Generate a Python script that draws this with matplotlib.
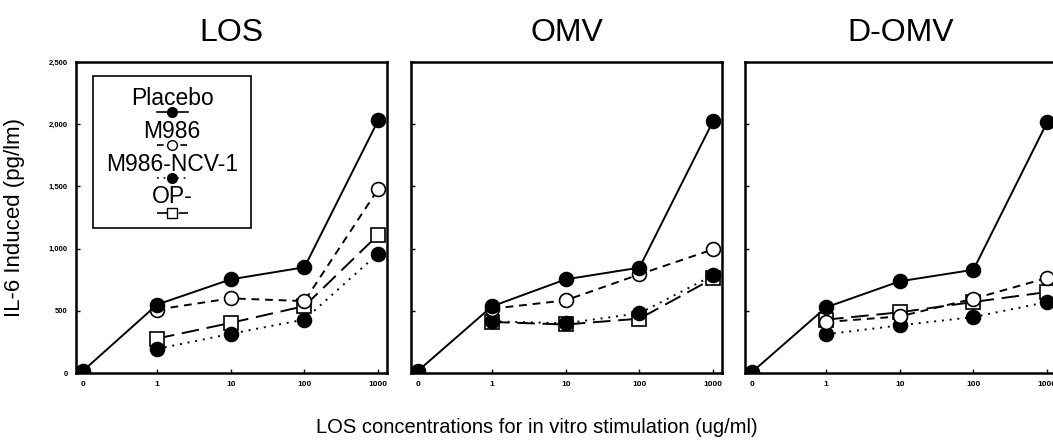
import numpy as np
import matplotlib
matplotlib.use("Agg")
import matplotlib.pyplot as plt
from matplotlib.patches import Rectangle

plt.rcParams['font.family'] = ['Liberation Sans', 'DejaVu Sans']

# concentrations (categorical positions)
conc_labels = ['0', '1', '10', '100', '1000']
panel_titles = ['LOS', 'OMV', 'D-OMV']
series_names = ['Placebo', 'M986', 'M986-NCV-1', 'OP-']

# values; Placebo includes the 0 point, others start at 1
placebo = [[20, 550, 753, 850, 2030],
           [20, 536, 753, 847, 2025],
           [10, 528, 737, 830, 2015]]
m986 = [[510, 600, 578, 1478],
        [517, 584, 793, 994],
        [410, 455, 597, 764]]
ncv1 = [[194, 315, 430, 960],
        [415, 400, 480, 785],
        [311, 383, 450, 570]]
op_minus = [[277, 403, 538, 1110],
            [410, 390, 437, 760],
            [429, 488, 571, 651]]

styles = {
    'Placebo': dict(ls='-', marker='o', mfc='black', mec='black'),
    'M986': dict(ls=(0, (4, 3)), marker='o', mfc='white', mec='black'),
    'M986-NCV-1': dict(ls=(0, (1, 3)), marker='o', mfc='black', mec='black'),
    'OP-': dict(ls=(0, (9, 4)), marker='s', mfc='white', mec='black'),
}

fig = plt.figure(figsize=(10.53, 4.43), dpi=100)
lefts = [0.0722, 0.3903, 0.7075]
xpos = np.arange(len(conc_labels))

for i in range(3):
    ax = fig.add_axes([lefts[i], 0.158, 0.2953, 0.702])
    data = {'Placebo': placebo[i], 'M986': m986[i],
            'M986-NCV-1': ncv1[i], 'OP-': op_minus[i]}
    # draw in reverse so placebo is on top
    for name in reversed(series_names):
        vals = data[name]
        xs = xpos[len(xpos) - len(vals):]
        st = styles[name]
        ax.plot(xs, vals, color='black', lw=1.4, ls=st['ls'], marker=st['marker'],
                ms=10, mfc=st['mfc'], mec=st['mec'], mew=1.2, zorder=3)
    ax.set_xlim(-0.1, 4.12)
    ax.set_ylim(0, 2500)
    ax.set_xticks(xpos)
    ax.set_xticklabels(conc_labels, fontsize=6, fontweight='bold')
    ax.set_yticks([0, 500, 1000, 1500, 2000, 2500])
    if i == 0:
        ax.set_yticklabels(['0', '500', '1,000', '1,500', '2,000', '2,500'],
                           fontsize=5.5, fontweight='bold')
        ax.set_ylabel('IL-6 Induced (pg/lm)', fontsize=16)
        ax.yaxis.set_label_coords(-0.164, 0.5)
    else:
        ax.set_yticklabels([])
    ax.tick_params(direction='in', length=3, width=1, pad=6)
    for sp in ax.spines.values():
        sp.set_linewidth(1.8)
    ax.set_title(panel_titles[i], fontsize=23, pad=15)

    if i == 0:
        # hand-made legend: label above its line sample
        ax.add_patch(Rectangle((0.055, 0.466), 0.508, 0.489, transform=ax.transAxes,
                               fill=False, lw=1.2, ec='black', zorder=4))
        text_y = [0.884, 0.775, 0.669, 0.566]
        line_y = [0.839, 0.733, 0.627, 0.514]
        for name, ty, ly in zip(series_names, text_y, line_y):
            st = styles[name]
            ax.text(0.309, ty, name, transform=ax.transAxes, ha='center', va='center',
                    fontsize=16.5, zorder=5)
            ax.plot([0.259, 0.359], [ly, ly], transform=ax.transAxes, color='black',
                    lw=1.2, ls=st['ls'], zorder=5)
            ax.plot([0.309], [ly], transform=ax.transAxes, ls='none', marker=st['marker'],
                    ms=7, mfc=st['mfc'], mec='black', mew=1, zorder=6)

fig.text(0.51, 0.034, 'LOS concentrations for in vitro stimulation (ug/ml)',
         ha='center', va='center', fontsize=14.5)

fig.savefig('out.png', dpi=100)
